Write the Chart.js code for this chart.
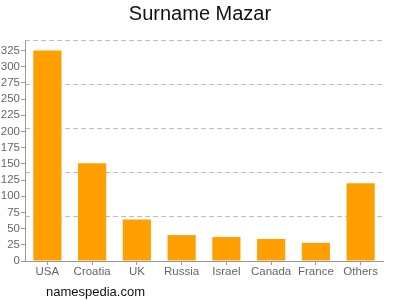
<!DOCTYPE html>
<html lang="en">
<head>
    <meta charset="UTF-8">
    <title>Surname Mazar</title>
    <script src="https://cdn.jsdelivr.net/npm/chart.js"></script>
    <style>
        html, body { margin: 0; padding: 0; background: #fff; }
        .wrap { position: relative; width: 400px; height: 300px; }
        .footer {
            position: absolute; left: 46px; top: 284px;
            font: 13px "Liberation Sans", Arial, sans-serif; color: #111;
        }
    </style>
</head>
<body>
    <div class="wrap">
        <canvas id="chart" width="400" height="300"></canvas>
        <div class="footer">namespedia.com</div>
    </div>

    <script>
        // Data
        const countries = ['USA', 'Croatia', 'UK', 'Russia', 'Israel', 'Canada', 'France', 'Others'];
        const counts = [325, 151, 64, 40, 37, 34, 28, 120];
        const yMax = 341.25;
        const yStep = 25;
        const gridStep = 68.25;

        const fam = '"Liberation Sans", Arial, sans-serif';

        // evenly spaced tick values from 0 up to limit
        function steps(step, limit) {
            const t = [];
            for (let i = 0; i * step <= limit + 0.01; i++) t.push({ value: i * step });
            return t;
        }

        new Chart(document.getElementById('chart'), {
            type: 'bar',
            data: {
                labels: countries,
                datasets: [{
                    data: counts,
                    backgroundColor: '#ffa000',
                    barPercentage: 0.63,
                    categoryPercentage: 1
                }]
            },
            options: {
                responsive: false,
                animation: false,
                layout: { padding: { left: 0, right: 0, top: 0, bottom: 17 } },
                plugins: {
                    legend: { display: false },
                    tooltip: { enabled: false },
                    title: {
                        display: true,
                        text: 'Surname Mazar',
                        color: '#111',
                        font: { family: fam, size: 20, weight: 'normal' },
                        padding: { top: 2, bottom: 14 }
                    }
                },
                scales: {
                    x: {
                        grid: { offset: false, drawOnChartArea: false, drawTicks: true, tickLength: 4, color: '#999' },
                        border: { color: '#999' },
                        ticks: {
                            color: '#666', font: { family: fam, size: 11.5 }, padding: 0,
                            maxRotation: 0, minRotation: 0, autoSkip: false
                        },
                        afterFit: s => { s.height = 22; }
                    },
                    y: {
                        min: 0,
                        max: yMax,
                        grid: { drawOnChartArea: false, drawTicks: true, tickLength: 4, color: '#999' },
                        border: { color: '#999' },
                        ticks: { color: '#666', font: { family: fam, size: 11.5 }, padding: 1 },
                        afterBuildTicks: s => { s.ticks = steps(yStep, yMax); },
                        afterFit: s => { s.width = 25; }
                    },
                    // dashed grid lines at their own spacing, on an unlabeled right axis
                    grid2: {
                        position: 'right',
                        min: 0,
                        max: yMax,
                        grid: { color: '#bbb', drawTicks: false, tickLength: 0 },
                        border: { display: false, dash: [5, 3] },
                        ticks: { display: false },
                        afterBuildTicks: s => { s.ticks = steps(gridStep, yMax); },
                        afterFit: s => { s.width = 17; }
                    }
                }
            }
        });
    </script>
</body>
</html>
